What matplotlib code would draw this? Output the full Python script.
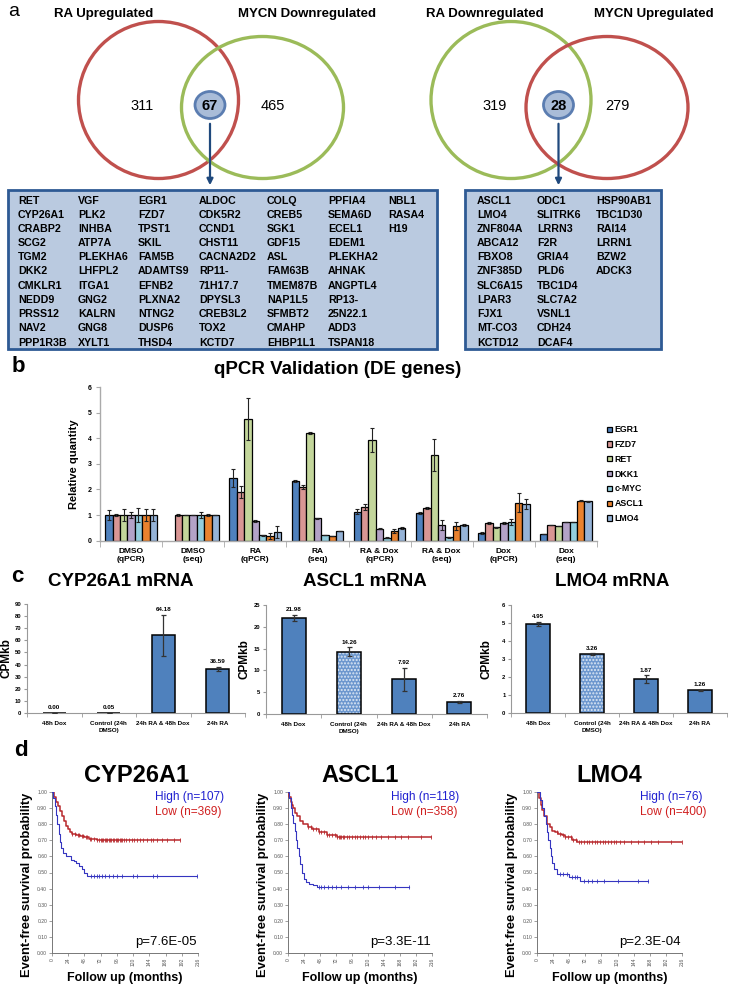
import numpy as np
import matplotlib
matplotlib.use("Agg")
import matplotlib.pyplot as plt
from matplotlib.patches import Ellipse, Rectangle, FancyArrowPatch

W, H, DPI = 729, 985, 100
plt.rcParams['font.family'] = ['Liberation Sans', 'DejaVu Sans']
NARROW = ['Liberation Sans Narrow', 'Liberation Sans', 'DejaVu Sans']

# ---------------- data ----------------
venn_left_titles = ["RA Upregulated", "MYCN Downregulated"]
venn_left_counts = [311, 67, 465]
venn_right_titles = ["RA Downregulated", "MYCN Upregulated"]
venn_right_counts = [319, 28, 279]

genes_left = [
    ["RET", "CYP26A1", "CRABP2", "SCG2", "TGM2", "DKK2", "CMKLR1", "NEDD9", "PRSS12", "NAV2", "PPP1R3B"],
    ["VGF", "PLK2", "INHBA", "ATP7A", "PLEKHA6", "LHFPL2", "ITGA1", "GNG2", "KALRN", "GNG8", "XYLT1"],
    ["EGR1", "FZD7", "TPST1", "SKIL", "FAM5B", "ADAMTS9", "EFNB2", "PLXNA2", "NTNG2", "DUSP6", "THSD4"],
    ["ALDOC", "CDK5R2", "CCND1", "CHST11", "CACNA2D2", "RP11-", "71H17.7", "DPYSL3", "CREB3L2", "TOX2", "KCTD7"],
    ["COLQ", "CREB5", "SGK1", "GDF15", "ASL", "FAM63B", "TMEM87B", "NAP1L5", "SFMBT2", "CMAHP", "EHBP1L1"],
    ["PPFIA4", "SEMA6D", "ECEL1", "EDEM1", "PLEKHA2", "AHNAK", "ANGPTL4", "RP13-", "25N22.1", "ADD3", "TSPAN18"],
    ["NBL1", "RASA4", "H19"],
]
genes_right = [
    ["ASCL1", "LMO4", "ZNF804A", "ABCA12", "FBXO8", "ZNF385D", "SLC6A15", "LPAR3", "FJX1", "MT-CO3", "KCTD12"],
    ["ODC1", "SLITRK6", "LRRN3", "F2R", "GRIA4", "PLD6", "TBC1D4", "SLC7A2", "VSNL1", "CDH24", "DCAF4"],
    ["HSP90AB1", "TBC1D30", "RAI14", "LRRN1", "BZW2", "ADCK3"],
]

qpcr_groups = ["DMSO\n(qPCR)", "DMSO\n(seq)", "RA\n(qPCR)", "RA\n(seq)",
               "RA & Dox\n(qPCR)", "RA & Dox\n(seq)", "Dox\n(qPCR)", "Dox\n(seq)"]
qpcr_genes = ["EGR1", "FZD7", "RET", "DKK1", "c-MYC", "ASCL1", "LMO4"]
qpcr_colors = ["#4F81BD", "#D99694", "#C3D69B", "#B3A2C7", "#93CDDD", "#E9822E", "#95B3D7"]
q_egr1 = [1.00, np.nan, 2.43, 2.33, 1.12, 1.07, 0.30, 0.26]
q_fzd7 = [1.00, 1.00, 1.90, 2.10, 1.32, 1.27, 0.69, 0.60]
q_ret = [1.00, 1.00, 4.75, 4.21, 3.92, 3.34, 0.52, 0.57]
q_dkk1 = [1.00, 1.00, 0.78, 0.87, 0.47, 0.62, 0.68, 0.72]
q_cmyc = [1.00, 1.00, 0.20, 0.22, 0.12, 0.14, 0.73, 0.72]
q_ascl1 = [1.00, 1.00, 0.18, 0.18, 0.37, 0.57, 1.48, 1.56]
q_lmo4 = [1.00, 1.00, 0.33, 0.37, 0.50, 0.60, 1.43, 1.53]
e_egr1 = [0.20, 0.00, 0.35, 0.03, 0.10, 0.05, 0.03, 0.01]
e_fzd7 = [0.05, 0.03, 0.25, 0.08, 0.12, 0.05, 0.05, 0.01]
e_ret = [0.25, 0.00, 0.82, 0.03, 0.47, 0.63, 0.03, 0.01]
e_dkk1 = [0.13, 0.00, 0.04, 0.01, 0.03, 0.20, 0.03, 0.01]
e_cmyc = [0.27, 0.12, 0.02, 0.01, 0.02, 0.02, 0.12, 0.01]
e_ascl1 = [0.22, 0.03, 0.10, 0.01, 0.08, 0.15, 0.38, 0.02]
e_lmo4 = [0.25, 0.00, 0.24, 0.01, 0.05, 0.04, 0.20, 0.02]

cpm_conditions = ["48h Dox", "Control (24h\nDMSO)", "24h RA & 48h Dox", "24h RA"]
cpm_cyp26a1 = [0.00, 0.05, 64.18, 36.59]
cpm_cyp26a1_err = [0.0, 0.03, 17.0, 1.5]
cpm_ascl1 = [21.98, 14.26, 7.92, 2.76]
cpm_ascl1_err = [0.7, 1.0, 2.6, 0.3]
cpm_lmo4 = [4.95, 3.26, 1.87, 1.26]
cpm_lmo4_err = [0.1, 0.05, 0.22, 0.03]

# Kaplan-Meier step curves (months, survival)
km_cyp_high_t = [0, 2, 4, 6, 8, 10, 12, 14, 16, 20, 24, 28, 32, 36, 40, 44, 48, 52, 214]
km_cyp_high_s = [1.0, 0.96, 0.91, 0.86, 0.80, 0.74, 0.69, 0.65, 0.62, 0.60, 0.60, 0.58, 0.57, 0.56, 0.54, 0.52, 0.50, 0.48, 0.48]
km_cyp_high_c = [58, 62, 66, 70, 74, 78, 84, 90, 96, 104, 120, 126, 150, 156, 214]
km_cyp_low_t = [0, 3, 6, 9, 12, 15, 18, 21, 24, 27, 30, 36, 42, 48, 54, 60, 66, 189]
km_cyp_low_s = [1.0, 0.97, 0.94, 0.91, 0.88, 0.85, 0.82, 0.79, 0.77, 0.75, 0.74, 0.73, 0.725, 0.72, 0.71, 0.705, 0.70, 0.70]
km_cyp_low_c = [30, 34, 38, 40, 44, 46, 50, 52, 56, 58, 62, 66, 70, 72, 74, 76, 78, 80, 82, 84, 86, 88, 90, 92,
                94, 96, 98, 100, 102, 104, 106, 110, 114, 118, 122, 126, 130, 134, 140, 146, 150, 156, 162, 170, 180, 189]
km_ascl_high_t = [0, 2, 4, 6, 8, 10, 12, 14, 16, 18, 21, 24, 27, 31, 38, 43, 181]
km_ascl_high_s = [1.0, 0.96, 0.90, 0.86, 0.81, 0.76, 0.70, 0.65, 0.60, 0.55, 0.50, 0.46, 0.44, 0.43, 0.42, 0.41, 0.41]
km_ascl_high_c = [46, 50, 54, 60, 66, 72, 80, 90, 100, 112, 120, 136, 160, 181]
km_ascl_low_t = [0, 2, 4, 6, 8, 11, 14, 18, 23, 30, 36, 46, 58, 73, 215]
km_ascl_low_s = [1.0, 0.97, 0.94, 0.92, 0.90, 0.87, 0.85, 0.82, 0.80, 0.78, 0.77, 0.75, 0.73, 0.72, 0.72]
km_ascl_low_c = [30, 34, 38, 42, 46, 50, 54, 58, 62, 66, 70, 74, 76, 78, 80, 82, 84, 88, 92, 96, 100, 104,
                 108, 112, 116, 120, 126, 132, 140, 150, 160, 170, 180, 200, 215]
km_lmo_high_t = [0, 4, 8, 11, 13, 15, 17, 19, 21, 23, 25, 30, 47, 64, 166]
km_lmo_high_s = [1.0, 0.95, 0.90, 0.85, 0.80, 0.75, 0.70, 0.65, 0.60, 0.56, 0.52, 0.49, 0.47, 0.45, 0.45]
km_lmo_high_c = [34, 38, 44, 52, 56, 60, 70, 76, 82, 90, 100, 120, 150, 166]
km_lmo_low_t = [0, 3, 6, 8, 11, 15, 19, 22, 27, 32, 37, 42, 52, 60, 216]
km_lmo_low_s = [1.0, 0.96, 0.92, 0.89, 0.85, 0.80, 0.78, 0.76, 0.75, 0.74, 0.73, 0.72, 0.70, 0.69, 0.69]
km_lmo_low_c = [30, 34, 38, 42, 46, 50, 54, 58, 62, 66, 70, 74, 78, 82, 86, 90, 94, 98, 102, 106, 110,
                114, 118, 124, 130, 140, 150, 160, 170, 180, 200, 216]

km_titles = ["CYP26A1", "ASCL1", "LMO4"]
km_high_labels = ["High (n=107)", "High (n=118)", "High (n=76)"]
km_low_labels = ["Low (n=369)", "Low (n=358)", "Low (n=400)"]
km_pvalues = ["p=7.6E-05", "p=3.3E-11", "p=2.3E-04"]
km_ticks_x = [0, 24, 48, 72, 96, 120, 144, 168, 192, 216]
km_ticks_y = [0.0, 0.1, 0.2, 0.3, 0.4, 0.5, 0.6, 0.7, 0.8, 0.9, 1.0]

# ---------------- figure ----------------
fig = plt.figure(figsize=(W / DPI, H / DPI), dpi=DPI)


def px_axes(x0, y0, x1, y1):
    return fig.add_axes([x0 / W, 1 - y1 / H, (x1 - x0) / W, (y1 - y0) / H])


def ftext(x, y, s, **kw):
    return fig.text(x / W, 1 - y / H, s, **kw)


ov = fig.add_axes([0, 0, 1, 1])
ov.set_xlim(0, W)
ov.set_ylim(H, 0)
ov.axis('off')
ov.patch.set_visible(False)

RED = "#C0504D"
GREEN = "#9BBB59"

# ---- panel a: Venn diagrams ----
ftext(14, 12, "a", fontsize=14, va='center', ha='center')


def venn(cx_left, cx_right, left_col, right_col, titles, counts, title_x):
    ov.add_patch(Ellipse((cx_left, 100), 160, 157, fill=False, ec=left_col, lw=2.4))
    ov.add_patch(Ellipse((cx_right, 107.5), 162, 142, fill=False, ec=right_col, lw=2.4))
    ov.text(title_x[0], 14, titles[0], fontsize=9.5, weight='bold', ha='center', va='center', family=NARROW)
    ov.text(title_x[1], 14, titles[1], fontsize=9.5, weight='bold', ha='center', va='center', family=NARROW)
    cxm = (cx_left + 80 + cx_right - 81) / 2
    ov.text(cx_left - 16, 106, str(counts[0]), fontsize=10.5, ha='center', va='center', family=NARROW)
    ov.text(cx_right + 10, 106, str(counts[2]), fontsize=10.5, ha='center', va='center', family=NARROW)
    ov.add_patch(Ellipse((cxm, 105), 30, 27, fc="#A9BCD8", ec="#5B7DB1", lw=2.0, zorder=3))
    ov.text(cxm, 106, str(counts[1]), fontsize=10.5, weight='bold', ha='center', va='center',
            family=NARROW, zorder=4)
    ov.add_patch(FancyArrowPatch((cxm, 121), (cxm, 188), arrowstyle='-|>', mutation_scale=9,
                                 color="#1F497D", lw=1.6, zorder=4))
    return cxm


venn(158.5, 262.5, RED, GREEN, venn_left_titles, venn_left_counts, (104, 307))
venn(511, 607, GREEN, RED, venn_right_titles, venn_right_counts, (485, 654))

# gene tables
TBL_FC = "#BACAE0"
TBL_EC = "#2E5A94"
ov.add_patch(Rectangle((8, 190), 429, 159, fc=TBL_FC, ec=TBL_EC, lw=2.0, zorder=2))
ov.add_patch(Rectangle((465, 190), 196, 159, fc=TBL_FC, ec=TBL_EC, lw=2.0, zorder=2))
left_cols_x = [18, 78, 138, 199, 267, 328, 388]
right_cols_x = [477, 537, 596]
row_y0, row_dy = 200.5, 14.2
for cols, xs in ((genes_left, left_cols_x), (genes_right, right_cols_x)):
    for col, x in zip(cols, xs):
        for i, g in enumerate(col):
            ov.text(x, row_y0 + i * row_dy, g, fontsize=7.7, weight='bold', ha='left', va='center', zorder=5)

# ---- panel b: qPCR ----
ftext(18, 367, "b", fontsize=16, weight='bold', va='center', ha='center')
ftext(338, 370, "qPCR Validation (DE genes)", fontsize=13.5, weight='bold', va='center', ha='center')
axb = px_axes(100, 387, 597, 540.6)
qvals = [q_egr1, q_fzd7, q_ret, q_dkk1, q_cmyc, q_ascl1, q_lmo4]
qerrs = [e_egr1, e_fzd7, e_ret, e_dkk1, e_cmyc, e_ascl1, e_lmo4]
xg = np.arange(len(qpcr_groups))
bw = 0.119
handles = []
for k, (vals, errs, col, name) in enumerate(zip(qvals, qerrs, qpcr_colors, qpcr_genes)):
    xs = xg - 3 * bw + k * bw
    b = axb.bar(xs, vals, bw, color=col, edgecolor='black', lw=0.9, label=name, zorder=2)
    axb.errorbar(xs, vals, yerr=errs, fmt='none', ecolor='#222222', elinewidth=0.8, capsize=1.6,
                 capthick=0.8, zorder=3)
    handles.append(b)
axb.set_xlim(-0.5, 7.5)
axb.set_ylim(0, 6)
axb.set_yticks(range(0, 7))
axb.set_yticklabels([str(v) for v in range(0, 7)], fontsize=5, weight='bold')
axb.set_xticks(xg)
axb.set_xticklabels(qpcr_groups, fontsize=6, weight='bold', linespacing=1.2)
axb.set_xticks(np.arange(-0.5, 8, 1), minor=True)
axb.tick_params(axis='x', which='major', length=0, pad=5)
axb.tick_params(axis='x', which='minor', length=4, color='#AAAAAA', direction='out')
axb.tick_params(axis='y', length=3, color='#AAAAAA', pad=3)
for s in ('top', 'right'):
    axb.spines[s].set_visible(False)
for s in ('left', 'bottom'):
    axb.spines[s].set_color('#AAAAAA')
    axb.spines[s].set_linewidth(1.0)
axb.set_ylabel("Relative quantity", fontsize=8, weight='bold', labelpad=6)
leg = axb.legend(handles=handles, labels=qpcr_genes, loc='upper left', bbox_to_anchor=(603 / W, 1 - 421 / H),
                 bbox_transform=fig.transFigure, frameon=False, prop={'size': 6.3, 'weight': 'bold'},
                 handlelength=0.55, handleheight=0.55, handletextpad=0.25, labelspacing=0.66, borderpad=0)

# ---- panel c: CPMkb bars ----
ftext(17, 577, "c", fontsize=16, weight='bold', va='center', ha='center')
cpanels = [
    ("CYP26A1 mRNA", cpm_cyp26a1, cpm_cyp26a1_err, (27, 604, 245, 713), 90, 10, 121, 7),
    ("ASCL1 mRNA", cpm_ascl1, cpm_ascl1_err, (266, 605, 487, 714), 25, 5, 365, 244),
    ("LMO4 mRNA", cpm_lmo4, cpm_lmo4_err, (511, 605, 727, 713), 6, 1, 612, 487),
]
BAR = "#4F81BD"
for title, vals, errs, box, ymax, ystep, tx, ylx in cpanels:
    ax = px_axes(*box)
    xc = np.arange(len(cpm_conditions))
    for i, (v, e) in enumerate(zip(vals, errs)):
        if i == 1:
            ax.bar(xc[i], v, 0.43, color="#6C97CE", hatch='.....', edgecolor='#DDE8F5', lw=0, zorder=2)
            ax.bar(xc[i], v, 0.43, fill=False, edgecolor='black', lw=1.1, zorder=3)
        else:
            ax.bar(xc[i], v, 0.43, color=BAR, edgecolor='black', lw=1.1, zorder=2)
    ax.errorbar(xc, vals, yerr=errs, fmt='none', ecolor='#333333', elinewidth=0.9, capsize=1.8,
                capthick=0.9, zorder=4)
    for i, (v, e) in enumerate(zip(vals, errs)):
        ax.text(xc[i], v + e + ymax * 0.025, f"{v:.2f}", fontsize=4.5, weight='bold', ha='center',
                va='bottom')
    ax.set_xlim(-0.5, 3.5)
    ax.set_ylim(0, ymax)
    ax.set_yticks(np.arange(0, ymax + 0.001, ystep))
    ax.set_yticklabels([f"{t:g}" for t in np.arange(0, ymax + 0.001, ystep)], fontsize=4.2, weight='bold')
    ax.set_xticks(xc)
    ax.set_xticklabels(cpm_conditions, fontsize=4.5, weight='bold', linespacing=1.3)
    ax.set_xticks(np.arange(-0.5, 4, 1), minor=True)
    ax.tick_params(axis='x', which='major', length=0, pad=6)
    ax.tick_params(axis='x', which='minor', length=3, color='#999999')
    ax.tick_params(axis='y', length=2.5, color='#999999', pad=1.5)
    for s in ('top', 'right'):
        ax.spines[s].set_visible(False)
    for s in ('left', 'bottom'):
        ax.spines[s].set_color('#999999')
    ftext(tx, 582, title, fontsize=13.5, weight='bold', ha='center', va='center')
    ftext(ylx, (box[1] + box[3]) / 2, "CPMkb", fontsize=8.5, weight='bold', rotation=90,
          ha='center', va='center')

# ---- panel d: Kaplan-Meier ----
ftext(21, 750, "d", fontsize=16, weight='bold', va='center', ha='center')
km_data = [
    (km_cyp_high_t, km_cyp_high_s, km_cyp_high_c, km_cyp_low_t, km_cyp_low_s, km_cyp_low_c),
    (km_ascl_high_t, km_ascl_high_s, km_ascl_high_c, km_ascl_low_t, km_ascl_low_s, km_ascl_low_c),
    (km_lmo_high_t, km_lmo_high_s, km_lmo_high_c, km_lmo_low_t, km_lmo_low_s, km_lmo_low_c),
]
km_boxes = [(52, 792, 198, 953), (288, 792, 432, 953), (537, 792, 682, 953)]
KM_BLUE = "#3535C0"
KM_RED = "#B8282C"


def surv_at(t, s, ct):
    idx = np.searchsorted(np.asarray(t), np.asarray(ct), side='right') - 1
    return np.asarray(s)[idx]


for j, (box, dat) in enumerate(zip(km_boxes, km_data)):
    ht, hs, hc, lt, ls, lc = dat
    ax = px_axes(*box)
    ax.step(lt, ls, where='post', color=KM_RED, lw=1.1, zorder=3)
    ax.plot(lc, surv_at(lt, ls, lc), ls='none', marker='|', ms=2.5, mew=0.6, color=KM_RED, zorder=3)
    ax.step(ht, hs, where='post', color=KM_BLUE, lw=0.8, zorder=4)
    ax.plot(hc, surv_at(ht, hs, hc), ls='none', marker='|', ms=2.5, mew=0.6, color=KM_BLUE, zorder=4)
    ax.set_xlim(0, 216)
    ax.set_ylim(0, 1.0)
    ax.set_xticks(km_ticks_x)
    ax.set_xticklabels([str(t) for t in km_ticks_x], fontsize=3.6, rotation=90, color='#555555')
    ax.set_yticks(km_ticks_y)
    ax.set_yticklabels([f"{t:.2f}" for t in km_ticks_y], fontsize=3.6, color='#555555')
    ax.tick_params(length=2, width=0.5, color='#777777', pad=1.5)
    for s in ('top', 'right'):
        ax.spines[s].set_visible(False)
    for s in ('left', 'bottom'):
        ax.spines[s].set_color('#777777')
        ax.spines[s].set_linewidth(0.7)
    ax.patch.set_visible(False)
    x0, y0, x1, y1 = box
    ftext((x0 + x1) / 2 + (12 if j == 0 else 0), 775, km_titles[j], fontsize=17, weight='bold',
          ha='center', va='center')
    ftext(x0 + 103, 797, km_high_labels[j], fontsize=8.6, color='#2020D0', ha='left', va='center')
    ftext(x0 + 103, 812, km_low_labels[j], fontsize=8.6, color='#D02020', ha='left', va='center')
    ftext(x1 - 1, 942, km_pvalues[j], fontsize=9.5, ha='right', va='center')
    ftext(x0 - 25, 885, "Event-free survival probability", fontsize=9.3, weight='bold', rotation=90,
          ha='center', va='center')
    ftext((x0 + x1) / 2, 978, "Follow up (months)", fontsize=9, weight='bold', ha='center', va='center')

fig.savefig("out.png", dpi=DPI)
